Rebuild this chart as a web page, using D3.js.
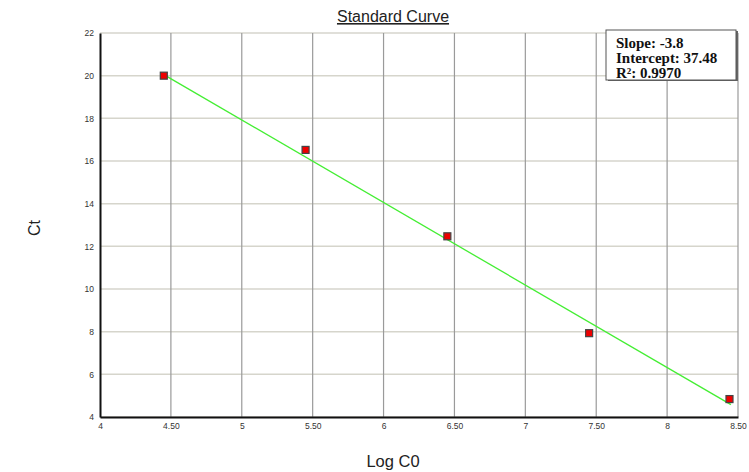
<!DOCTYPE html>
<html>
<head>
<meta charset="utf-8">
<script src="https://cdn.jsdelivr.net/npm/d3@7"></script>
<style>
  body { margin: 0; background: #fff; }
  svg { display: block; }
</style>
</head>
<body>
<div id="chart"></div>
<script>
// data
var logC0 = [4.45, 5.45, 6.45, 7.45, 8.44];
var ct = [20.0, 16.52, 12.47, 7.93, 4.84];
var fitX = [4.45, 8.45];
var fitY = [20.05, 4.58];
var xTicks = [4, 4.5, 5, 5.5, 6, 6.5, 7, 7.5, 8, 8.5];
var xTickLabels = ["4", "4.50", "5", "5.50", "6", "6.50", "7", "7.50", "8", "8.50"];
var yTicks = [4, 6, 8, 10, 12, 14, 16, 18, 20, 22];
var statLines = ["Slope: -3.8", "Intercept: 37.48", "R²: 0.9970"];

var width = 749, height = 472;
var m = {left: 100, right: 11, top: 33, bottom: 55};

var svg = d3.select("#chart").append("svg")
    .attr("width", width)
    .attr("height", height);

var x = d3.scaleLinear().domain([4, 8.5]).range([m.left, width - m.right]);
var y = d3.scaleLinear().domain([4, 22]).range([height - m.bottom, m.top]);

// horizontal grid
svg.append("g")
    .selectAll("line")
    .data(yTicks)
    .enter().append("line")
    .attr("x1", x(4)).attr("x2", x(8.5))
    .attr("y1", function(d){ return y(d); })
    .attr("y2", function(d){ return y(d); })
    .attr("stroke", "#d6d5cc")
    .attr("stroke-width", 1.5);

// vertical grid
svg.append("g")
    .selectAll("line")
    .data(xTicks.slice(1))
    .enter().append("line")
    .attr("x1", function(d){ return x(d); })
    .attr("x2", function(d){ return x(d); })
    .attr("y1", y(22)).attr("y2", y(4))
    .attr("stroke", "#9a9a9a")
    .attr("stroke-width", 1.2);

// axes
var xAxis = svg.append("g")
    .attr("transform", "translate(0," + y(4) + ")")
    .call(d3.axisBottom(x).tickValues(xTicks)
        .tickFormat(function(d, i){ return xTickLabels[i]; })
        .tickSize(0).tickPadding(6));
var yAxis = svg.append("g")
    .attr("transform", "translate(" + x(4) + ",0)")
    .call(d3.axisLeft(y).tickValues(yTicks).tickSize(0).tickPadding(6));

[xAxis, yAxis].forEach(function(a){
    a.select(".domain").attr("stroke", "#111").attr("stroke-width", 2);
    a.selectAll("text")
        .attr("font-family", "Arial, 'Liberation Sans', sans-serif")
        .attr("font-size", 8.5)
        .attr("fill", "#333");
});

// fit line
svg.append("line")
    .attr("x1", x(fitX[0])).attr("y1", y(fitY[0]))
    .attr("x2", x(fitX[1])).attr("y2", y(fitY[1]))
    .attr("stroke", "#44ee33")
    .attr("stroke-width", 1.3);

// points
var s = 7;
svg.append("g")
    .selectAll("rect")
    .data(logC0)
    .enter().append("rect")
    .attr("x", function(d){ return x(d) - s/2; })
    .attr("y", function(d, i){ return y(ct[i]) - s/2; })
    .attr("width", s).attr("height", s)
    .attr("fill", "#ee0000")
    .attr("stroke", "#444")
    .attr("stroke-width", 1.2);

// title
svg.append("text")
    .attr("x", 393).attr("y", 22)
    .attr("text-anchor", "middle")
    .attr("font-family", "Arial, 'Liberation Sans', sans-serif")
    .attr("font-size", 16)
    .attr("text-decoration", "underline")
    .attr("fill", "#222")
    .text("Standard Curve");

// axis labels
svg.append("text")
    .attr("x", 393).attr("y", 467)
    .attr("text-anchor", "middle")
    .attr("font-family", "Arial, 'Liberation Sans', sans-serif")
    .attr("font-size", 16.5)
    .attr("fill", "#222")
    .text("Log C0");

svg.append("text")
    .attr("transform", "translate(40,228) rotate(-90)")
    .attr("text-anchor", "middle")
    .attr("font-family", "Arial, 'Liberation Sans', sans-serif")
    .attr("font-size", 16)
    .attr("fill", "#222")
    .text("Ct");

// stats box
var box = svg.append("g").attr("transform", "translate(606,30)");
box.append("rect")
    .attr("x", 2).attr("y", 1).attr("width", 130).attr("height", 50)
    .attr("fill", "#666");
box.append("rect")
    .attr("width", 130).attr("height", 50)
    .attr("fill", "#fff")
    .attr("stroke", "#555")
    .attr("stroke-width", 1);
box.selectAll("text")
    .data(statLines)
    .enter().append("text")
    .attr("x", 10)
    .attr("y", function(d, i){ return 18 + i * 15; })
    .attr("font-family", "'Liberation Serif', 'Times New Roman', serif")
    .attr("font-weight", "bold")
    .attr("font-size", 15)
    .attr("fill", "#111")
    .text(function(d){ return d; });
</script>
</body>
</html>
